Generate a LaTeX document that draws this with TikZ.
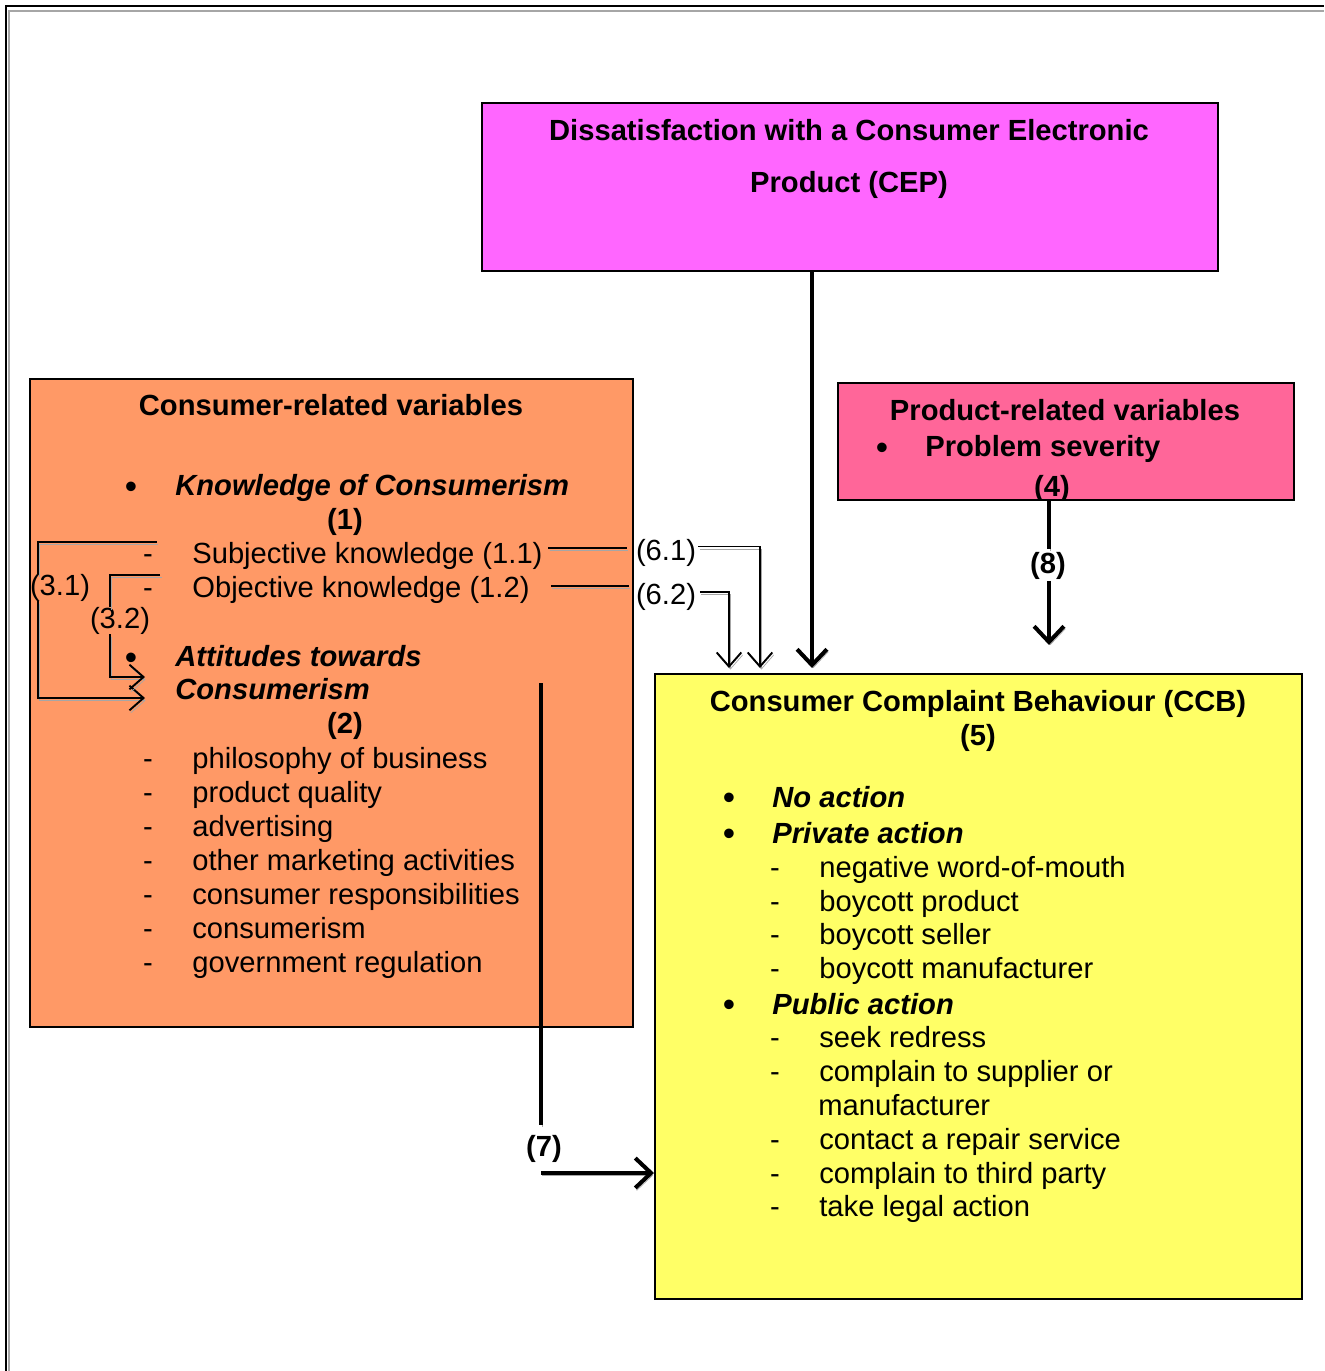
\documentclass[tikz,border=0pt]{standalone}
\usepackage{fontspec}
\setmainfont{Liberation Sans}
\usetikzlibrary{positioning,arrows.meta}
\definecolor{cepcol}{HTML}{FF66FF}
\definecolor{crvcol}{HTML}{FF9966}
\definecolor{prvcol}{HTML}{FF6699}
\definecolor{ccbcol}{HTML}{FFFF66}
\tikzset{
  box/.style={draw, line width=1.1pt, anchor=north west, inner sep=0pt},
  txt/.style={inner sep=0pt, text height=12pt, text depth=0pt,
    font=\fontsize{16.6}{19.3}\selectfont},
  btxt/.style={txt, font=\fontsize{16.6}{19.3}\selectfont\bfseries},
  bitxt/.style={txt, font=\fontsize{16.6}{19.3}\selectfont\bfseries\itshape},
  bul/.style={inner sep=0pt, text height=14.4pt, text depth=0pt, font=\fontsize{20}{20}\selectfont},
  shadowed/.style={preaction={draw=black!35, transform canvas={shift={(0.8pt,-1.4pt)}}}},
  dline/.style={line width=0.8pt, shadowed},
  thinarrow/.style={line width=1.1pt, -{Straight Barb[length=8pt,width=14pt]}, shadowed},
  bigline/.style={line width=2.3pt, shadowed},
  bigarrow/.style={line width=2.3pt, -{Straight Barb[length=9pt,width=17pt]}, shadowed}
}
\newcommand{\colbox}[6]{%
  \node[box, fill=#6, minimum width={(#4-#2)*0.02cm}, minimum height={(#5-#3)*0.02cm}] (#1) at (#2,#3) {};
}
\newcommand{\dashitem}[4]{%
  \node[txt] (#3d) at (#1,#2) {-};
  \node[txt, anchor=west] (#3) at (#1+44,#2) {#4};
}
\begin{document}
\begin{tikzpicture}[x=0.02cm, y=-0.02cm]
\useasboundingbox (0,0) rectangle (1324,1371);
% frame
\draw[black!35, line width=1.1pt] (9,1371) -- (9,11) -- (1324,11);
\draw[line width=1.2pt] (6,1371) -- (6,6) -- (1324,6);

% boxes
\colbox{cep}{481}{102}{1217}{270}{cepcol}
\colbox{crv}{29}{378}{632}{1026}{crvcol}
\colbox{prv}{837}{382}{1293}{499}{prvcol}
\colbox{ccb}{654}{673}{1301}{1298}{ccbcol}

% dissatisfaction
\node[btxt] (cep1) at (849,130) {Dissatisfaction with a Consumer Electronic};
\node[btxt] (cep2) at (849,182) {Product (CEP)};

% consumer-related variables
\node[btxt] (crvt) at (331,405) {Consumer-related variables};
\node[bul] (kb) at (131,486) {•};
\node[bitxt, anchor=west] (know) at (175,485) {Knowledge of Consumerism};
\node[btxt] (k1) at (345,519) {(1)};
\dashitem{148}{553}{subj}{Subjective knowledge (1.1)}
\dashitem{148}{587}{obj}{Objective knowledge (1.2)}
\node[bul] (ab) at (131,657) {•};
\node[bitxt, anchor=west] (att) at (175,656) {Attitudes towards};
\node[bitxt, anchor=west] (att2) at (175,689) {Consumerism};
\node[btxt] (k2) at (345,723) {(2)};
\foreach \t [count=\i] in {philosophy of business, product quality, advertising,
  other marketing activities, consumer responsibilities, consumerism, government regulation} {
  \dashitem{148}{724+34*\i}{ait\i}{\t}
}

% product-related variables
\node[btxt] (prvt) at (1065,410) {Product-related variables};
\node[bul] (pb) at (882,447) {•};
\node[btxt, anchor=west] (sev) at (925,446) {Problem severity};
\begin{scope}
  \clip ([shift={(0.6pt,0.6pt)}]prv.south west) rectangle (prv.north east);
  \node[btxt] (k4) at (1052,486) {(4)};
\end{scope}

% consumer complaint behaviour
\node[btxt] (ccbt) at (978,701) {Consumer Complaint Behaviour (CCB)};
\node[btxt] (k5) at (978,735) {(5)};
\node[bul] (nb) at (729,797) {•};
\node[bitxt, anchor=west] (noact) at (772,797) {No action};
\node[bul] (pvb) at (729,833) {•};
\node[bitxt, anchor=west] (priv) at (772,833) {Private action};
\dashitem{775}{867}{pr1}{negative word-of-mouth}
\dashitem{775}{901}{pr2}{boycott product}
\dashitem{775}{934}{pr3}{boycott seller}
\dashitem{775}{968}{pr4}{boycott manufacturer}
\node[bul] (pub) at (729,1004) {•};
\node[bitxt, anchor=west] (publ) at (772,1004) {Public action};
\dashitem{775}{1037}{pu1}{seek redress}
\dashitem{775}{1071}{pu2}{complain to supplier or}
\node[txt, anchor=west] (pu2b) at (818,1105) {manufacturer};
\dashitem{775}{1139}{pu3}{contact a repair service}
\dashitem{775}{1173}{pu4}{complain to third party}
\dashitem{775}{1206}{pu5}{take legal action}

% labels
\node[txt] (l31) at (60,585) {(3.1)};
\node[txt] (l32) at (120,618) {(3.2)};
\node[txt] (l61) at (666,550) {(6.1)};
\node[txt] (l62) at (666,594) {(6.2)};
\node[btxt] (l8) at (1048,563) {(8)};
\node[btxt] (l7) at (544,1146) {(7)};

% connectors
\coordinate (c31a) at (38,542);
\coordinate (c31b) at (145,698);
\coordinate (c32a) at (110,575);
\coordinate (c32b) at (145,677);
\draw[dline] ([xshift=2pt]subjd.east |- c31a) -- (c31a) -- (c31a |- l31.north);
\draw[thinarrow] ([yshift=-3pt]c31a |- l31.south) |- (c31b);
\draw[dline] ([xshift=4pt]objd.east |- c32a) -- (c32a) -- (c32a |- l32.north);
\draw[thinarrow] ([yshift=-3pt]c32a |- l32.south) |- (c32b);

\coordinate (y61) at (0,548);
\coordinate (y62) at (0,586);
\coordinate (c61) at (760,668);
\coordinate (c62) at (729,668);
\draw[dline] ([xshift=3pt]subj.east |- y61) -- ([xshift=-5pt]l61.west |- y61);
\draw[thinarrow] ([xshift=1pt,yshift=2pt]l61.east) -| (c61);
\draw[dline] ([xshift=12pt]obj.east |- y62) -- ([xshift=-4pt]l62.west |- y62);
\draw[thinarrow] ([xshift=2pt,yshift=1pt]l62.east) -| (c62);

\coordinate (cmain) at (812,668);
\draw[bigarrow] (cep.south -| cmain) -- (cmain);

\coordinate (c8) at (1049,645);
\draw[bigline] (prv.south -| c8) -- ([yshift=2pt]c8 |- l8.north);
\draw[bigarrow] ([yshift=-4pt]c8 |- l8.south) -- (c8);

\coordinate (c7a) at (541,683);
\coordinate (c7b) at (541,1173);
\draw[bigline] (c7a) -- ([yshift=6pt]c7a |- l7.north);
\draw[bigarrow] (c7b) -- (c7b -| ccb.west);
\end{tikzpicture}
\end{document}
